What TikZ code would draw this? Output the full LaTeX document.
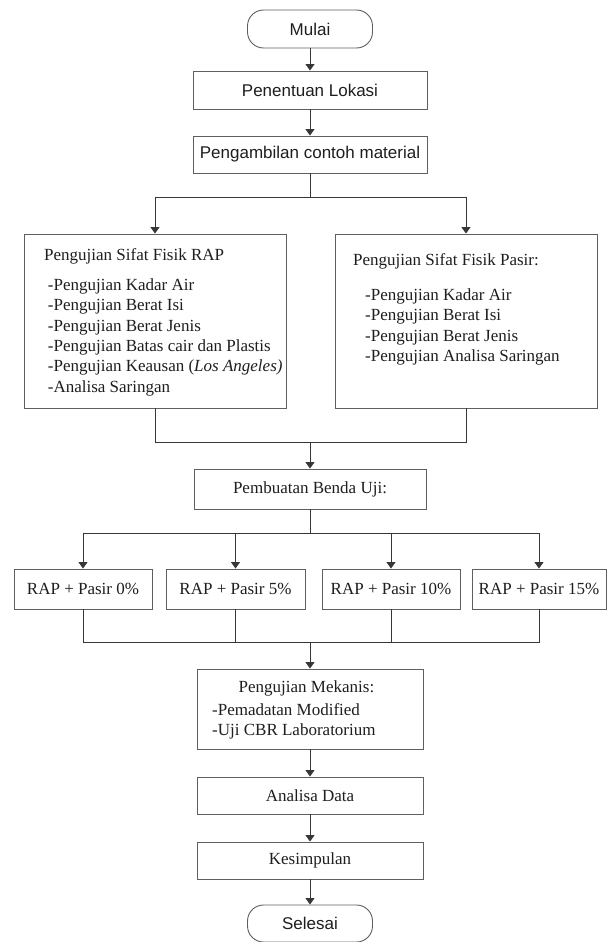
\documentclass[tikz,border=0pt]{standalone}
\usepackage{fontspec}
\setmainfont{Liberation Serif}
\newfontfamily\arialfont{Liberation Sans}
\usetikzlibrary{arrows.meta}
\definecolor{lineGray}{RGB}{55,55,55}
\definecolor{boxGray}{RGB}{95,95,95}
\definecolor{textGray}{RGB}{30,30,30}

\begin{document}
\begin{tikzpicture}[x=1pt,y=-1pt,
    box/.style={draw=boxGray,line width=0.9pt,fill=white,inner sep=0pt,text=textGray,font=\fontsize{17}{20.4}\selectfont},
    sbox/.style={box,font=\arialfont\fontsize{17}{20.4}\selectfont},
    term/.style={sbox,rounded corners=16pt},
    txt/.style={inner sep=0pt,text=textGray,align=left,font=\fontsize{17}{20.4}\selectfont},
    link/.style={draw=lineGray,line width=1pt},
    arr/.style={link,-{Triangle[width=9pt,length=6.5pt]}}]
                \useasboundingbox (0,0) rectangle (611,942);

                \node[term,minimum width=125,minimum height=38] (mulai) at (310,29) {Mulai};
                \node[sbox,minimum width=234,minimum height=38] (lokasi) at (310,90) {Penentuan Lokasi};
                \node[sbox,minimum width=234,minimum height=37] (ambil) at (310,154.5) {Pengambilan contoh material};

                \node[box,minimum width=262,minimum height=174] (rap) at (155,321) {};
                \node[txt,anchor=base west] (raptitle) at (44,260) {Pengujian Sifat Fisik RAP};
                \node[txt,anchor=north west] (rapitems) at (47.7,278.4) {-Pengujian Kadar Air\\-Pengujian Berat Isi\\-Pengujian Berat Jenis\\-Pengujian Batas cair dan Plastis\\-Pengujian Keausan (\textit{Los Angeles)}\\-Analisa Saringan};

                \node[box,minimum width=262,minimum height=174] (pasir) at (466,321) {};
                \node[txt,anchor=base west] (pasirtitle) at (353,265) {Pengujian Sifat Fisik Pasir:};
                \node[txt,anchor=north west] (pasiritems) at (365,288.4) {-Pengujian Kadar Air\\-Pengujian Berat Isi\\-Pengujian Berat Jenis\\-Pengujian Analisa Saringan};

                \node[box,minimum width=232,minimum height=40] (benda) at (310,489) {Pembuatan Benda Uji:};

                \node[box,minimum width=138,minimum height=40] (p0) at (83,589) {RAP + Pasir 0\%};
                \node[box,minimum width=139,minimum height=40] (p5) at (235.5,589) {RAP + Pasir 5\%};
                \node[box,minimum width=138,minimum height=40] (p10) at (391,589) {RAP + Pasir 10\%};
                \node[box,minimum width=134,minimum height=40] (p15) at (539,589) {RAP + Pasir 15\%};

                \node[box,minimum width=226,minimum height=80] (mekanis) at (310,709) {};
                \node[txt,anchor=base] (mektitle) at (306.5,692) {Pengujian Mekanis:};
                \node[txt,anchor=north west] (mekitems) at (212,703.4) {-Pemadatan Modified\\-Uji CBR Laboratorium};

                \node[box,minimum width=226,minimum height=37] (analisa) at (310,795.5) {Analisa Data};
                \node[box,minimum width=226,minimum height=37] (simpul) at (310,860.5) {Kesimpulan};
                \node[term,minimum width=125,minimum height=37] (selesai) at (310,923.5) {Selesai};

                % titik cabang dan gabung
                \coordinate (bagi1) at (310,197);
                \coordinate (gabung1) at (310,442);
                \coordinate (bagi2) at (310,533);
                \coordinate (gabung2) at (310,642);

                \draw[arr] (mulai) -- (lokasi);
                \draw[arr] (lokasi) -- (ambil);
                \draw[link] (ambil) -- (bagi1);
                \draw[arr] (bagi1) -| (rap);
                \draw[arr] (bagi1) -| (pasir);

                \draw[link] (rap) |- (gabung1);
                \draw[link] (pasir) |- (gabung1);
                \draw[arr] (gabung1) -- (benda);

                \draw[link] (benda) -- (bagi2);
                \draw[arr] (bagi2) -| (p0);
                \draw[arr] (bagi2) -| (p5);
                \draw[arr] (bagi2) -| (p10);
                \draw[arr] (bagi2) -| (p15);

                \draw[link] (p0) |- (gabung2);
                \draw[link] (p5) |- (gabung2);
                \draw[link] (p10) |- (gabung2);
                \draw[link] (p15) |- (gabung2);
                \draw[arr] (gabung2) -- (mekanis);

                \draw[arr] (mekanis) -- (analisa);
                \draw[arr] (analisa) -- (simpul);
                \draw[arr] (simpul) -- (selesai);
            \end{tikzpicture}
\end{document}
